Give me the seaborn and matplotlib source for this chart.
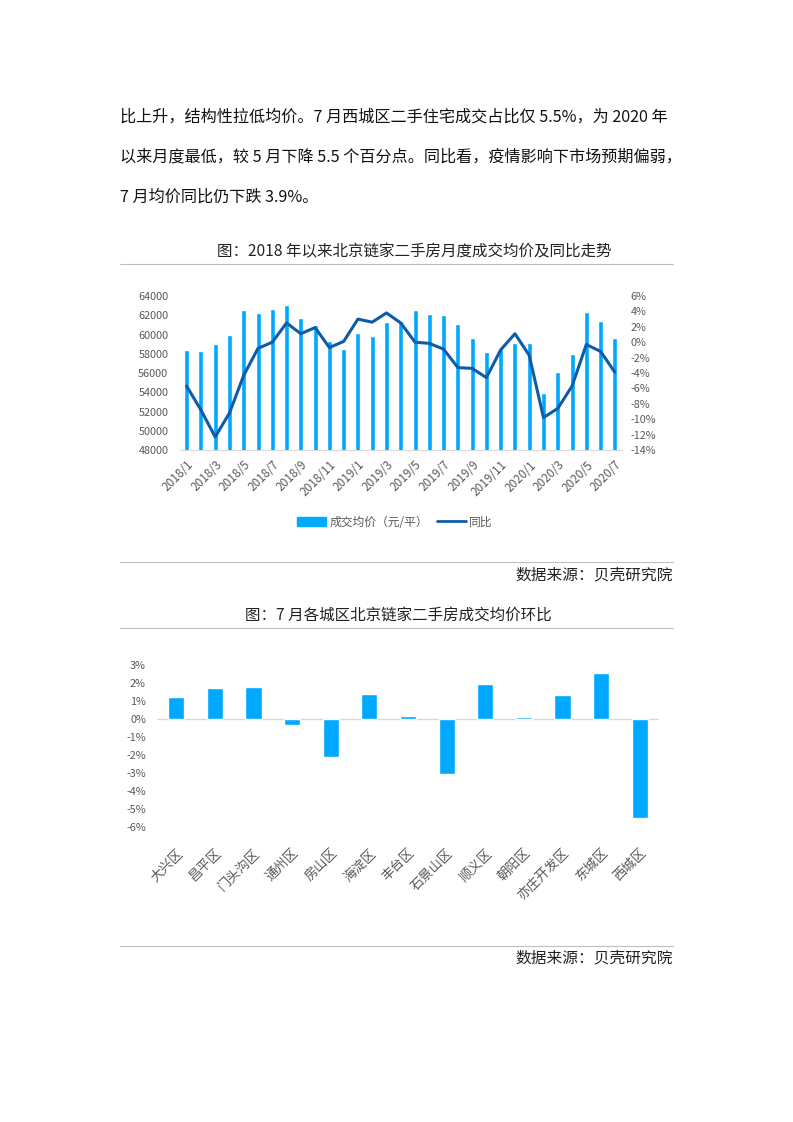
import numpy as np
import pandas as pd
import seaborn as sns
import matplotlib.pyplot as plt
from matplotlib.lines import Line2D
from matplotlib.patches import Patch
from matplotlib.ticker import FuncFormatter

# 数据：2018/1 - 2020/7 月度成交均价及同比
meses = [f'{a}/{m}' for a in (2018, 2019) for m in range(1, 13)] + [f'2020/{m}' for m in range(1, 8)]
preco_medio = [58400, 58300, 59000, 59950, 62550, 62250, 62650, 63050, 61700, 61000,
               59300, 58500, 60150, 59850, 61300, 61400, 62550, 62150, 62050, 61100,
               59650, 58200, 58500, 59150, 59150, 53950, 56150, 58000, 62350, 61450, 59650]
yoy = [-5.7, -8.8, -12.3, -9.2, -4.3, -0.8, 0.0, 2.5, 1.1, 1.9,
       -0.7, 0.1, 3.0, 2.6, 3.8, 2.5, 0.0, -0.15, -0.9, -3.3,
       -3.4, -4.6, -1.0, 1.1, -1.7, -9.8, -8.6, -5.7, -0.3, -1.2, -3.9]

# 7月各城区环比
distritos = ['大兴区', '昌平区', '门头沟区', '通州区', '房山区', '海淀区', '丰台区',
             '石景山区', '顺义区', '朝阳区', '亦庄开发区', '东城区', '西城区']
mom = [1.22, 1.72, 1.78, -0.33, -2.11, 1.39, 0.17, -3.06, 1.94, 0.11, 1.33, 2.56, -5.5]

paragrafo = ['比上升，结构性拉低均价。7 月西城区二手住宅成交占比仅 5.5%，为 2020 年',
             '以来月度最低，较 5 月下降 5.5 个百分点。同比看，疫情影响下市场预期偏弱，',
             '7 月均价同比仍下跌 3.9%。']

AZUL = '#00A8FF'
AZUL_ESCURO = '#0E5BA8'
CINZA = '#595959'

sns.set_style('white')
plt.rcParams['font.family'] = ['Noto Sans CJK SC', 'DejaVu Sans']
plt.rcParams['axes.unicode_minus'] = False

W, H = 793, 1122
fig = plt.figure(figsize=(W / 100, H / 100), dpi=100)


def caixa(x0, y0, x1, y1):
    # pixels (origem no topo) -> fracao da figura
    return [x0 / W, 1 - y1 / H, (x1 - x0) / W, (y1 - y0) / H]


def linha(y):
    fig.add_artist(Line2D([120 / W, 673 / W], [1 - y / H] * 2, color='#BFBFBF', lw=0.8))


# texto do paragrafo
for i, t in enumerate(paragrafo):
    fig.text(120 / W, 1 - (117 + 40 * i) / H, t, fontsize=11.6, va='center', ha='left', color='#111111')

# ---------- grafico 1 ----------
fig.text(414 / W, 1 - 252 / H, '图：2018 年以来北京链家二手房月度成交均价及同比走势',
         fontsize=11.2, ha='center', va='center', color='#222222')
linha(264)

ax = fig.add_axes(caixa(179.5, 296, 622, 450))
df1 = pd.DataFrame({'mes': meses, 'preco': preco_medio, 'yoy': yoy})
sns.barplot(data=df1, x='mes', y='preco', color=AZUL, width=0.35, ax=ax, saturation=1)
ax.set_ylim(48000, 64000)
ax.set_yticks(range(48000, 64001, 2000))
ax.set_xlim(-0.5, len(meses) - 0.5)
ax.set_xticks(range(0, len(meses), 2))
ax.set_xticklabels(meses[::2], rotation=45, ha='right', rotation_mode='anchor')
ax.set_xlabel('')
ax.set_ylabel('')
ax.tick_params(axis='both', length=0, labelsize=7.8, colors=CINZA)
ax.tick_params(axis='x', labelsize=8.5, pad=6)
ax.tick_params(axis='y', pad=8)
for s in ('top', 'left', 'right'):
    ax.spines[s].set_visible(False)
ax.spines['bottom'].set_color('#D9D9D9')

ax2 = ax.twinx()
sns.lineplot(x=np.arange(len(meses)), y=df1['yoy'], color=AZUL_ESCURO, lw=2.2, ax=ax2)
ax2.set_ylim(-14, 6)
ax2.set_yticks(range(-14, 7, 2))
ax2.yaxis.set_major_formatter(FuncFormatter(lambda v, p: f'{v:.0f}%'))
ax2.set_ylabel('')
ax2.tick_params(axis='y', length=0, labelsize=7.8, colors=CINZA, pad=6)
for s in ('top', 'left', 'right', 'bottom'):
    ax2.spines[s].set_visible(False)

handles = [Patch(color=AZUL), Line2D([0], [0], color=AZUL_ESCURO, lw=2)]
leg = fig.legend(handles, ['成交均价（元/平）', '同比'], loc='center', ncol=2,
                 bbox_to_anchor=(395 / W, 1 - 522 / H), frameon=False, fontsize=8.5,
                 handlelength=2.4, handleheight=0.7, columnspacing=0.8, handletextpad=0.3)
for t in leg.get_texts():
    t.set_color(CINZA)

linha(562)
fig.text(673 / W, 1 - 575 / H, '数据来源：贝壳研究院', fontsize=11.3, ha='right', va='center', color='#222222')

# ---------- grafico 2 ----------
fig.text(398 / W, 1 - 615 / H, '图：7 月各城区北京链家二手房成交均价环比',
         fontsize=11.2, ha='center', va='center', color='#222222')
linha(628)

bx = fig.add_axes(caixa(157, 665, 659, 827))
df2 = pd.DataFrame({'distrito': distritos, 'mom': mom})
sns.barplot(data=df2, x='distrito', y='mom', color=AZUL, width=0.42, ax=bx, saturation=1)
bx.axhline(0, color='#D9D9D9', lw=1, zorder=0)
bx.set_ylim(-6, 3)
bx.set_yticks(range(-6, 4))
bx.yaxis.set_major_formatter(FuncFormatter(lambda v, p: f'{v:.0f}%'))
bx.set_xlim(-0.5, len(distritos) - 0.5)
bx.set_xticks(range(len(distritos)))
bx.set_xticklabels(distritos, rotation=45, ha='right', rotation_mode='anchor')
bx.set_xlabel('')
bx.set_ylabel('')
bx.tick_params(axis='both', length=0, colors=CINZA)
bx.tick_params(axis='x', pad=14, labelsize=9.5)
bx.tick_params(axis='y', pad=8, labelsize=7.8)
for s in ('top', 'left', 'right', 'bottom'):
    bx.spines[s].set_visible(False)

linha(946)
fig.text(673 / W, 1 - 958 / H, '数据来源：贝壳研究院', fontsize=11.3, ha='right', va='center', color='#222222')

plt.savefig('out.png', dpi=100)
